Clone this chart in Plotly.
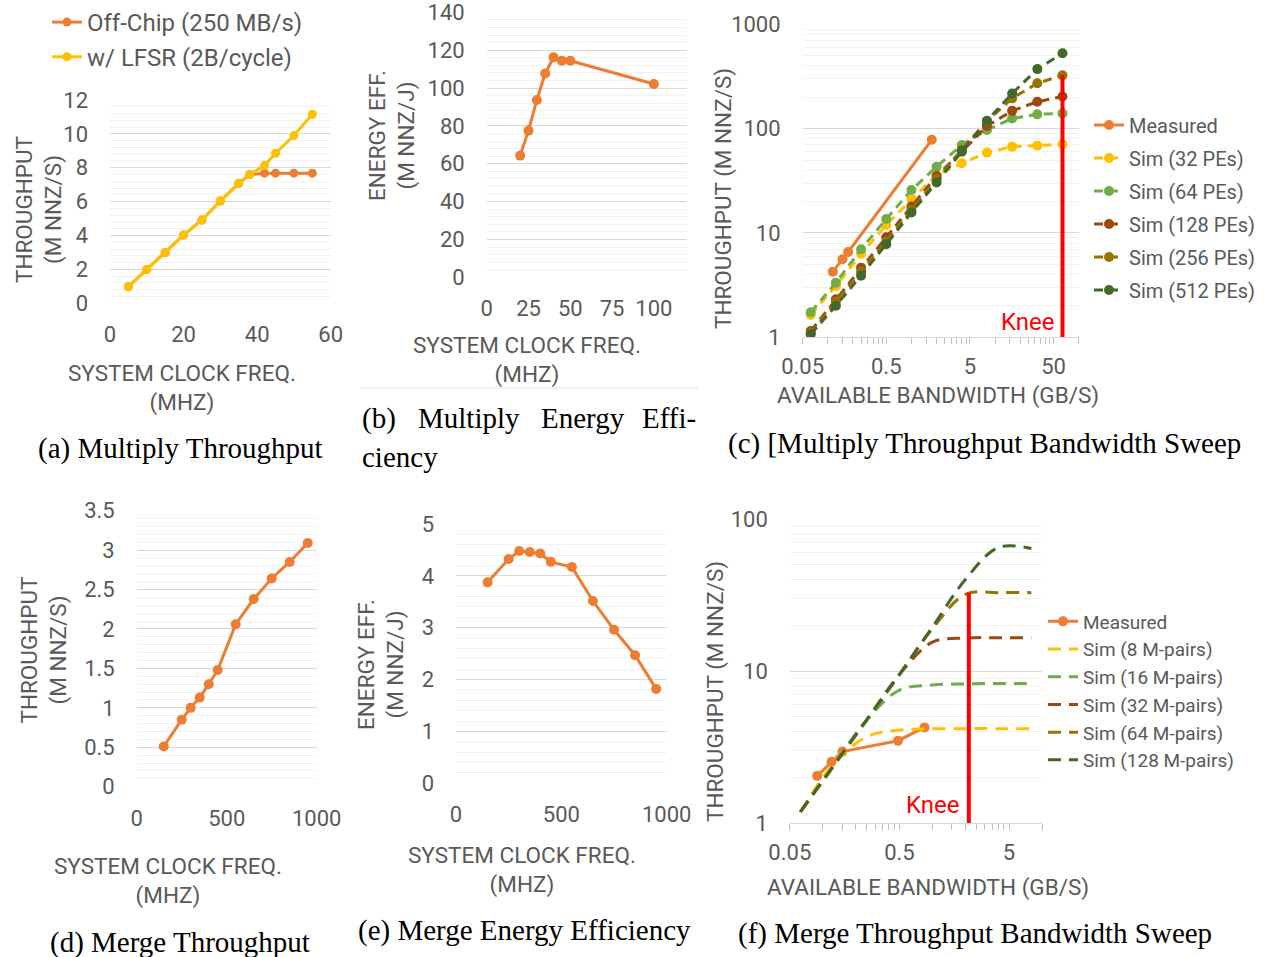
import math
import plotly.graph_objects as go

W, H = 1267, 957

# ---------------- data ----------------
# (a) Multiply throughput vs clock
freq_a = [5, 10, 15, 20, 25, 30, 35, 38, 42, 45, 50, 55]
offchip_a = [0.98, 2.0, 3.0, 4.03, 4.92, 6.04, 7.08, 7.6, 7.68, 7.68, 7.68, 7.68]
lfsr_a = [0.98, 2.0, 3.0, 4.03, 4.92, 6.04, 7.08, 7.6, 8.13, 8.86, 9.9, 11.16]

# (b) Multiply energy efficiency
freq_b = [20, 25, 30, 35, 40, 45, 50, 100]
eff_b = [64.3, 77.5, 93.7, 107.7, 116.2, 114.4, 114.4, 102.1]

# (c) Multiply throughput bandwidth sweep
bw_c = [0.0625, 0.125, 0.25, 0.5, 1, 2, 4, 8, 16, 32, 64]
meas_bw_c = [0.115, 0.15, 0.175, 1.75]
meas_c = [4.26, 5.6, 6.57, 78.2]
sim32_c = [1.64, 3.1, 6.3, 11.9, 21, 36, 46.5, 58.9, 67.2, 68.7, 70.8]
sim64_c = [1.74, 3.34, 6.97, 13.6, 25.8, 43.2, 69.7, 97, 125, 137, 140]
sim128_c = [1.15, 2.31, 4.65, 9.1, 17.9, 35.2, 60.2, 106, 148, 181, 203]
sim256_c = [1.1, 2.2, 4.26, 8.3, 16.6, 33, 62.8, 118, 195, 272, 324]
sim512_c = [1.07, 2.01, 3.9, 7.8, 15.7, 30.5, 61, 119, 217, 372, 527]
knee_c_x = [64, 64]
knee_c_y = [0.85, 327]

# (d) Merge throughput vs clock
freq_d = [150, 250, 300, 350, 400, 450, 550, 650, 750, 850, 950]
thr_d = [0.51, 0.85, 1.0, 1.13, 1.30, 1.48, 2.06, 2.38, 2.64, 2.85, 3.09]

# (e) Merge energy efficiency
freq_e = [150, 250, 300, 350, 400, 450, 550, 650, 750, 850, 950]
eff_e = [3.875, 4.325, 4.48, 4.46, 4.43, 4.27, 4.17, 3.515, 2.96, 2.47, 1.82]

# (f) Merge throughput bandwidth sweep
bw_f = [0.0625, 0.125, 0.25, 0.5, 1, 2, 4, 8]
meas_bw_f = [0.089, 0.12, 0.151, 0.486, 0.847]
meas_f = [2.05, 2.54, 2.96, 3.49, 4.27]
sim8_f = [1.19, 2.45, 3.7, 4.1, 4.18, 4.19, 4.19, 4.19]
sim16_f = [1.19, 2.38, 4.75, 7.5, 8.1, 8.25, 8.3, 8.3]
sim32_f = [1.19, 2.38, 4.75, 9.5, 15.5, 16.5, 16.6, 16.6]
sim64_f = [1.19, 2.38, 4.75, 9.5, 19, 32, 32.8, 32.8]
sim128_f = [1.19, 2.38, 4.75, 9.5, 19.5, 40, 65, 64]
knee_f_x = [2.15, 2.15]
knee_f_y = [0.8, 32.8]

# ---------------- style ----------------
ORANGE = '#ED7D31'
YELLOW = '#FFC000'
GREEN = '#70AD47'
BROWN = '#9E480E'
OLIVE = '#997300'
DKGREEN = '#43682B'
RED = '#FF0000'
GRAY = '#595959'
FONT = 'Roboto'
SERIF = 'Liberation Serif'


def px(x):
    return x / W


def py(y):
    return 1 - y / H


def dx(a, b):
    return [a / W, b / W]


def dy(top, bottom):
    return [1 - bottom / H, 1 - top / H]


fig = go.Figure()


def line_trace(x, y, color, name, xa, ya, legend=None, dash=None, marker=True,
               msize=9, width=3, shape='linear', showlegend=True):
    fig.add_trace(go.Scatter(
        x=x, y=y, name=name,
        mode='lines+markers' if marker else 'lines',
        line=dict(color=color, width=width, dash=dash, shape=shape),
        marker=dict(color=color, size=msize),
        xaxis=xa, yaxis=ya,
        legend=legend, legendgroup=(legend or 'l') + name,
        showlegend=showlegend and legend is not None,
    ))


# (a)
line_trace(freq_a, offchip_a, ORANGE, 'Off-Chip (250 MB/s)', 'x', 'y', legend='legend', msize=9)
line_trace(freq_a, lfsr_a, YELLOW, 'w/ LFSR (2B/cycle)', 'x', 'y', legend='legend', msize=9)
# (b)
line_trace(freq_b, eff_b, ORANGE, 'eff_b', 'x2', 'y2', msize=10)
# (c)
line_trace(meas_bw_c, meas_c, ORANGE, 'Measured', 'x3', 'y3', legend='legend2', msize=10)
DC = '9px,6px'
line_trace(bw_c, sim32_c, YELLOW, 'Sim (32 PEs)', 'x3', 'y3', legend='legend2', dash=DC, msize=10)
line_trace(bw_c, sim64_c, GREEN, 'Sim (64 PEs)', 'x3', 'y3', legend='legend2', dash=DC, msize=10)
line_trace(bw_c, sim128_c, BROWN, 'Sim (128 PEs)', 'x3', 'y3', legend='legend2', dash=DC, msize=10)
line_trace(bw_c, sim256_c, OLIVE, 'Sim (256 PEs)', 'x3', 'y3', legend='legend2', dash=DC, msize=10)
line_trace(bw_c, sim512_c, DKGREEN, 'Sim (512 PEs)', 'x3', 'y3', legend='legend2', dash=DC, msize=10)
line_trace(knee_c_x, knee_c_y, RED, 'Knee', 'x3', 'y3', marker=False, width=4, showlegend=False)
# (d)
line_trace(freq_d, thr_d, ORANGE, 'thr_d', 'x4', 'y4', msize=10)
# (e)
line_trace(freq_e, eff_e, ORANGE, 'eff_e', 'x5', 'y5', msize=10)
# (f)
DF = '13px,8px'
line_trace(meas_bw_f, meas_f, ORANGE, 'Measured', 'x6', 'y6', legend='legend3', msize=10)
line_trace(bw_f, sim8_f, YELLOW, 'Sim (8 M-pairs)', 'x6', 'y6', legend='legend3', dash=DF, marker=False, shape='spline')
line_trace(bw_f, sim16_f, GREEN, 'Sim (16 M-pairs)', 'x6', 'y6', legend='legend3', dash=DF, marker=False, shape='spline')
line_trace(bw_f, sim32_f, BROWN, 'Sim (32 M-pairs)', 'x6', 'y6', legend='legend3', dash=DF, marker=False, shape='spline')
line_trace(bw_f, sim64_f, OLIVE, 'Sim (64 M-pairs)', 'x6', 'y6', legend='legend3', dash=DF, marker=False, shape='spline')
line_trace(bw_f, sim128_f, DKGREEN, 'Sim (128 M-pairs)', 'x6', 'y6', legend='legend3', dash=DF, marker=False, shape='spline')
line_trace(knee_f_x, knee_f_y, RED, 'Knee', 'x6', 'y6', marker=False, width=4, showlegend=False)

tickfont = dict(family=FONT, size=22, color=GRAY)
MAJ = '#d9d9d9'
MIN = '#f2f2f2'


def lin_y(domain, rng, dtick, minor_dtick, anchor):
    return dict(domain=domain, range=rng, dtick=dtick, tick0=0, anchor=anchor,
                showgrid=True, gridcolor=MAJ, gridwidth=1.3, zeroline=False,
                showline=False, ticks='', tickfont=tickfont, ticklabelstandoff=21,
                automargin=False,
                minor=dict(dtick=minor_dtick, tick0=0, showgrid=True, gridcolor=MIN, gridwidth=1.3),
                fixedrange=True)


def lin_x(domain, rng, dtick, anchor):
    return dict(domain=domain, range=rng, dtick=dtick, tick0=0, anchor=anchor,
                showgrid=False, zeroline=False, showline=False, ticks='',
                automargin=False,
                tickfont=tickfont, ticklabelstandoff=16, fixedrange=True)


def log_minor(decades):
    vals = []
    for d in decades:
        for k in range(2, 10):
            vals.append(k * d)
    return vals


layout = dict(
    width=W, height=H, margin=dict(l=0, r=0, t=0, b=0, autoexpand=False),
    paper_bgcolor='white', plot_bgcolor='white',
    font=dict(family=FONT, color=GRAY),
)

# (a)
layout['xaxis'] = lin_x(dx(110, 330.7), [0, 60], 20, 'y')
layout['yaxis'] = lin_y(dy(100, 303.3), [0, 12], 2, 0.4, 'x')
# (b)
layout['xaxis2'] = lin_x(dx(486.7, 687.3), [0, 120], 25, 'y2')
layout['yaxis2'] = lin_y(dy(12.3, 277.3), [0, 140], 20, 4, 'x2')
# (d)
layout['xaxis4'] = lin_x(dx(136.7, 316.7), [0, 1000], 500, 'y4')
layout['yaxis4'] = lin_y(dy(510.7, 786.7), [0, 3.5], 0.5, 0.1, 'x4')
# (e)
layout['xaxis5'] = lin_x(dx(456, 666.7), [0, 1000], 500, 'y5')
layout['yaxis5'] = lin_y(dy(524, 783.3), [0, 5], 1, 0.2, 'x5')


def log_x(domain, rng_vals, ticks, anchor):
    return dict(domain=domain, type='log',
                range=[math.log10(rng_vals[0]), math.log10(rng_vals[1])],
                tickmode='array', tickvals=ticks, ticktext=[str(t) for t in ticks],
                anchor=anchor, showgrid=False, zeroline=False,
                showline=True, linecolor=MAJ, linewidth=1.3,
                ticks='outside', ticklen=6, tickcolor='#bfbfbf', tickwidth=1.3,
                tickfont=tickfont, ticklabelstandoff=3, automargin=False,
                minor=dict(tickmode='array', tickvals=log_minor(ticks),
                           ticks='outside', ticklen=6, tickcolor='#bfbfbf', tickwidth=1.3,
                           showgrid=False),
                fixedrange=True)


def log_y(domain, top_exp, anchor):
    ticks = [10 ** i for i in range(top_exp + 1)]
    return dict(domain=domain, type='log', range=[0, top_exp],
                tickmode='array', tickvals=ticks, ticktext=[str(t) for t in ticks],
                anchor=anchor, showgrid=True, gridcolor=MAJ, gridwidth=1.3,
                zeroline=False, showline=False, ticks='', tickfont=tickfont,
                ticklabelstandoff=21, automargin=False,
                minor=dict(tickmode='array', tickvals=log_minor(ticks[:-1]),
                           showgrid=True, gridcolor=MIN, gridwidth=1.3),
                fixedrange=True)


# (c)
layout['xaxis3'] = log_x(dx(802.6, 1078.7), [0.05, 100], [0.05, 0.5, 5, 50], 'y3')
layout['yaxis3'] = log_y(dy(24.3, 337.3), 3, 'x3')
# (f)
layout['xaxis6'] = log_x(dx(789.8, 1042), [0.05, 10], [0.05, 0.5, 5], 'y6')
layout['yaxis6'] = log_y(dy(519, 823.3), 2, 'x6')

legend_common = dict(xanchor='left', yanchor='top', bgcolor='rgba(0,0,0,0)',
                     traceorder='grouped', itemwidth=30)
layout['legend'] = dict(x=px(47), y=py(0), font=dict(family=FONT, size=24, color=GRAY),
                        tracegroupgap=0.5, **legend_common)
layout['legend2'] = dict(x=px(1089), y=py(105.5), font=dict(family=FONT, size=20, color=GRAY),
                         tracegroupgap=4, **legend_common)
layout['legend3'] = dict(x=px(1043), y=py(602.5), font=dict(family=FONT, size=19, color=GRAY),
                         tracegroupgap=0, **legend_common)

annotations = []


def text(x, y, s, size=22.5, color=GRAY, family=FONT, angle=0, xanchor='center'):
    annotations.append(dict(x=px(x), y=py(y), xref='paper', yref='paper', text=s,
                            showarrow=False, textangle=angle, xanchor=xanchor,
                            yanchor='middle', font=dict(family=family, size=size, color=color)))


# axis titles
text(39, 210, 'THROUGHPUT<br>(M NNZ/S)', angle=-90)
text(182, 388, 'SYSTEM CLOCK FREQ.<br>(MHZ)')
text(392, 136, 'ENERGY EFF.<br>(M NNZ/J)', angle=-90)
text(527, 360, 'SYSTEM CLOCK FREQ.<br>(MHZ)')
text(724, 199, 'THROUGHPUT (M NNZ/S)', angle=-90)
text(938, 396, 'AVAILABLE BANDWIDTH (GB/S)')
text(43.5, 650, 'THROUGHPUT<br>(M NNZ/S)', angle=-90)
text(168, 881, 'SYSTEM CLOCK FREQ.<br>(MHZ)')
text(381, 665, 'ENERGY EFF.<br>(M NNZ/J)', angle=-90)
text(522, 870, 'SYSTEM CLOCK FREQ.<br>(MHZ)')
text(715, 692, 'THROUGHPUT (M NNZ/S)', angle=-90)
text(928, 887, 'AVAILABLE BANDWIDTH (GB/S)')

# captions
CAP = 29
text(180, 448, '(a) Multiply Throughput', size=CAP, color='black', family=SERIF)
text(360, 418, '(b)', size=CAP, color='black', family=SERIF, xanchor='left')
text(416, 418, 'Multiply', size=CAP, color='black', family=SERIF, xanchor='left')
text(539, 418, 'Energy', size=CAP, color='black', family=SERIF, xanchor='left')
text(698, 418, 'Effi-', size=CAP, color='black', family=SERIF, xanchor='right')
text(360, 457, 'ciency', size=CAP, color='black', family=SERIF, xanchor='left')
text(984, 443, '(c) [Multiply Throughput Bandwidth Sweep', size=CAP, color='black', family=SERIF)
text(180, 942, '(d) Merge Throughput', size=CAP, color='black', family=SERIF)
text(524, 930, '(e) Merge Energy Efficiency', size=CAP, color='black', family=SERIF)
text(975, 933, '(f) Merge Throughput Bandwidth Sweep', size=CAP, color='black', family=SERIF)

# Knee labels
annotations.append(dict(x=math.log10(knee_c_x[0]), y=py(322), xref='x3', yref='paper',
                        text='Knee', showarrow=False, xanchor='right', yanchor='middle',
                        xshift=-5, font=dict(family=FONT, size=24, color=RED)))
annotations.append(dict(x=math.log10(knee_f_x[0]), y=py(805), xref='x6', yref='paper',
                        text='Knee', showarrow=False, xanchor='right', yanchor='middle',
                        xshift=-7, font=dict(family=FONT, size=24, color=RED)))

layout['annotations'] = annotations
layout['shapes'] = [dict(type='line', xref='paper', yref='paper', x0=px(360), x1=px(698),
                         y0=py(388), y1=py(388), line=dict(color='#e3e3e3', width=1))]

fig.update_layout(**layout)
fig.write_html('out.html', config={'displayModeBar': False},
               post_script="document.body.style.margin='0';document.body.style.padding='0';")
